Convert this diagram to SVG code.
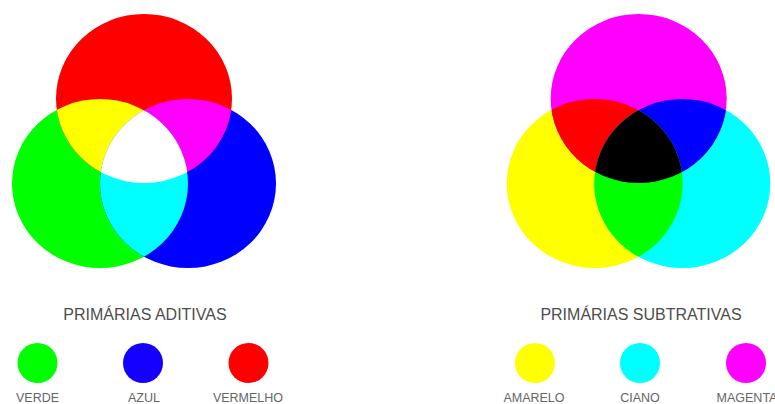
<svg xmlns="http://www.w3.org/2000/svg" width="775" height="404" viewBox="0 0 775 404">
<style>
.title{font-family:"Liberation Sans",Arial,sans-serif;font-size:16px;fill:#4d4d4d;text-anchor:middle}
.lbl{font-family:"Liberation Sans",Arial,sans-serif;font-size:12.5px;fill:#666;text-anchor:middle}
</style>
<defs>
<clipPath id="cR"><ellipse cx="144" cy="98.5" rx="88" ry="84.5"/></clipPath>
<clipPath id="cG"><ellipse cx="100" cy="183.5" rx="88" ry="84.5"/></clipPath>
<clipPath id="cB"><ellipse cx="188" cy="183.5" rx="88" ry="84.5"/></clipPath>
<clipPath id="cM"><ellipse cx="638.7" cy="98.5" rx="88" ry="84.5"/></clipPath>
<clipPath id="cY"><ellipse cx="594.7" cy="183.5" rx="88" ry="84.5"/></clipPath>
<clipPath id="cC"><ellipse cx="682.3" cy="183.5" rx="88" ry="84.5"/></clipPath>
</defs>
<rect width="775" height="404" fill="#fff"/>
<g id="additive">
<ellipse cx="100" cy="183.5" rx="88" ry="84.5" fill="#00ff00"/>
<ellipse cx="188" cy="183.5" rx="88" ry="84.5" fill="#0000ff"/>
<ellipse cx="144" cy="98.5" rx="88" ry="84.5" fill="#ff0000"/>
<ellipse cx="144" cy="98.5" rx="88" ry="84.5" fill="#ffff00" clip-path="url(#cG)"/>
<ellipse cx="144" cy="98.5" rx="88" ry="84.5" fill="#ff00ff" clip-path="url(#cB)"/>
<ellipse cx="100" cy="183.5" rx="88" ry="84.5" fill="#00ffff" clip-path="url(#cB)"/>
<g clip-path="url(#cG)"><ellipse cx="144" cy="98.5" rx="88" ry="84.5" fill="#ffffff" clip-path="url(#cB)"/></g>
</g>
<g id="subtractive">
<ellipse cx="594.7" cy="183.5" rx="88" ry="84.5" fill="#ffff00"/>
<ellipse cx="682.3" cy="183.5" rx="88" ry="84.5" fill="#00ffff"/>
<ellipse cx="638.7" cy="98.5" rx="88" ry="84.5" fill="#ff00ff"/>
<ellipse cx="638.7" cy="98.5" rx="88" ry="84.5" fill="#ff0000" clip-path="url(#cY)"/>
<ellipse cx="638.7" cy="98.5" rx="88" ry="84.5" fill="#0000ff" clip-path="url(#cC)"/>
<ellipse cx="594.7" cy="183.5" rx="88" ry="84.5" fill="#00ff00" clip-path="url(#cC)"/>
<g clip-path="url(#cY)"><ellipse cx="638.7" cy="98.5" rx="88" ry="84.5" fill="#000000" clip-path="url(#cC)"/></g>
</g>
<text class="title" x="145" y="320">PRIMÁRIAS ADITIVAS</text>
<text class="title" x="641" y="320">PRIMÁRIAS SUBTRATIVAS</text>
<g id="verde"><circle cx="37.5" cy="363" r="20" fill="#00ff00"/><text class="lbl" x="37.5" y="401.5">VERDE</text></g>
<g id="azul"><circle cx="143" cy="363" r="20" fill="#1400ff"/><text class="lbl" x="144" y="401.5">AZUL</text></g>
<g id="vermelho"><circle cx="248.5" cy="363" r="20" fill="#ff0000"/><text class="lbl" x="248" y="401.5">VERMELHO</text></g>
<g id="amarelo"><circle cx="535" cy="363" r="20" fill="#ffff00"/><text class="lbl" x="534" y="401.5">AMARELO</text></g>
<g id="ciano"><circle cx="640" cy="363" r="20" fill="#00ffff"/><text class="lbl" x="640" y="401.5">CIANO</text></g>
<g id="magenta"><circle cx="746" cy="363" r="20" fill="#ff00ff"/><text class="lbl" x="747" y="401.5">MAGENTA</text></g>
</svg>
